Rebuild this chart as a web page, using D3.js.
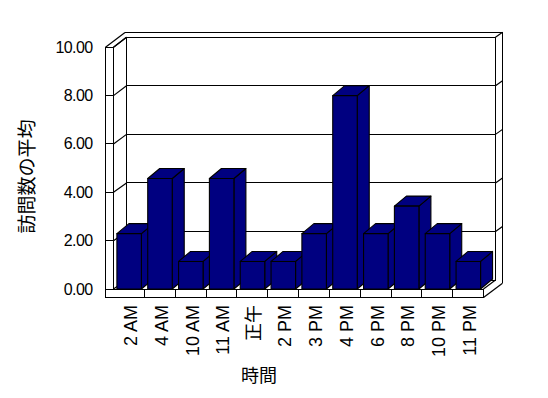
<!DOCTYPE html>
<html><head><meta charset="utf-8">
<script src="https://cdn.jsdelivr.net/npm/d3@7"></script>
<style>
body{margin:0;background:#fff;}
svg{display:block;}
text{font-family:"Liberation Sans","Noto Sans CJK JP",sans-serif;fill:#000;}
</style></head>
<body>
<svg id="chart" width="548" height="398"></svg>
<script>
const categories = ["2 AM","4 AM","10 AM","11 AM","正午","2 PM","3 PM","4 PM","6 PM","8 PM","10 PM","11 PM"];
const values = [2.29,4.57,1.14,4.57,1.14,1.14,2.29,8.00,2.29,3.43,2.29,1.14];
const yTicks = [0,2,4,6,8,10];
const yTitle = "訪問数の平均";
const xTitle = "時間";

const svg = d3.select("#chart");
const x = d3.scaleBand().domain(categories).range([113.5,483.5]);
const yF = d3.scaleLinear().domain([0,10]).range([289,47.3]);   // front plane
const yB = d3.scaleLinear().domain([0,10]).range([280,37.3]);   // back wall plane
const L0=105.5, L1=113.5, BL=126.5, BLo=125, BR=495.5, BRo=502.5, FR=483.5, floorBot=297.5;
const dx=12, dy=-10;
const line = (x1,y1,x2,y2)=>{
  const straight = (x1===x2||y1===y2);
  return svg.append("line").attr("x1",x1).attr("y1",y1).attr("x2",x2).attr("y2",y2)
    .attr("stroke","#000").attr("stroke-width",straight?1:1.2)
    .attr("shape-rendering", straight?"crispEdges":"auto");
};

// back wall
svg.append("rect").attr("x",BL).attr("y",yB(10)).attr("width",BR-BL).attr("height",yB(0)-yB(10))
  .attr("fill","#fff");
line(BLo,32.5,BRo,32.5);
line(BL,yB(10),BR,yB(10));
// right side
line(BR,yB(10),BR,yB(0));
line(BRo,32.5,BRo,283.3);
line(BRo,283.3,FR,floorBot);
line(BR,yB(0),FR,yF(0));
line(FR,yF(0),FR,floorBot);
// left wall
line(L0,yF(10),L0,floorBot);
line(L1,yF(10),L1,yF(0));
line(L0,yF(10),BLo,32.5);
line(L1,yF(10),BL,yB(10));
line(BL,yB(10),BL,yB(0));
// gridlines
yTicks.forEach(v=>{
  line(L0,yF(v),L1,yF(v));
  line(L1,yF(v),BL,yB(v));
  line(BL,yB(v),BR,yB(v));
  if(v>0) line(BR,yB(v),BRo,yB(v)-5);
});
// floor front
line(L1,yF(0),FR,yF(0));
line(L0,floorBot,FR,floorBot);
categories.forEach((c,i)=>{ if(i>0) line(x(c),yF(0),x(c),floorBot); });

// bars
const inset=3.4, bw=24.5;
categories.forEach((c,i)=>{
  const v=values[i];
  const x0=x(c)+inset, x1=x0+bw, yt=yF(v), yb=yF(0);
  const g=svg.append("g").attr("fill","#000080").attr("stroke","#000").attr("stroke-width",1.1).attr("stroke-linejoin","round");
  g.append("polygon").attr("points",[[x1,yt],[x1+dx,yt+dy],[x1+dx,yb+dy],[x1,yb]].map(p=>p.join(",")).join(" "));
  g.append("polygon").attr("points",[[x0,yt],[x0+dx,yt+dy],[x1+dx,yt+dy],[x1,yt]].map(p=>p.join(",")).join(" "));
  g.append("rect").attr("x",x0).attr("y",yt).attr("width",bw).attr("height",yb-yt);
});

// y tick labels
svg.selectAll(".yt").data(yTicks).enter().append("text")
  .attr("x",92.5).attr("y",v=>yF(v)).attr("text-anchor","end").attr("dominant-baseline","central")
  .style("font-size","16px").style("letter-spacing","-0.6px").text(v=>v.toFixed(2));

// x tick labels
svg.selectAll(".xt").data(categories).enter().append("text")
  .attr("transform",c=>`translate(${x(c)+x.bandwidth()/2+2},305) rotate(-90)`)
  .attr("text-anchor","end").attr("dominant-baseline","central")
  .style("font-size","18px").text(c=>c);

// titles
svg.append("text").attr("transform","translate(27,176.5) rotate(-90)").attr("text-anchor","middle")
  .attr("dominant-baseline","central").style("font-size","19px").text(yTitle);
svg.append("text").attr("x",259).attr("y",376).attr("text-anchor","middle")
  .attr("dominant-baseline","central").style("font-size","18px").text(xTitle);
</script>
</body></html>
